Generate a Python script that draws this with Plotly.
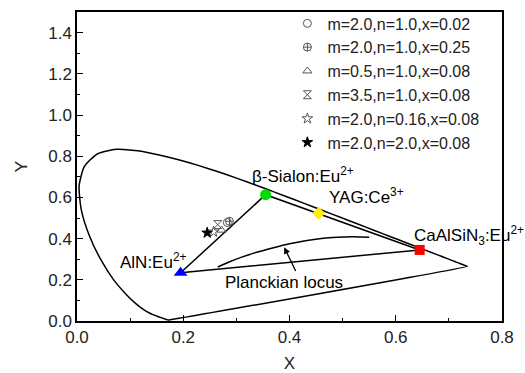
import plotly.graph_objects as go

# CIE 1931 spectral locus (x, y)
locus_x = [0.1741, 0.1740, 0.1738, 0.1736, 0.1733, 0.1730, 0.1726, 0.1721, 0.1714, 0.1703,
           0.1689, 0.1669, 0.1644, 0.1611, 0.1566, 0.1510, 0.1440, 0.1355, 0.1241, 0.1096,
           0.0913, 0.0687, 0.0454, 0.0235, 0.0082, 0.0039, 0.0139, 0.0389, 0.0743, 0.1142,
           0.1547, 0.1929, 0.2296, 0.2658, 0.3016, 0.3373, 0.3731, 0.4087, 0.4441, 0.4788,
           0.5125, 0.5448, 0.5752, 0.6029, 0.6270, 0.6482, 0.6658, 0.6801, 0.6915, 0.7006,
           0.7079, 0.7140, 0.7190, 0.7230, 0.7260, 0.7300, 0.7334, 0.7347, 0.1741]
locus_y = [0.0050, 0.0050, 0.0049, 0.0049, 0.0048, 0.0048, 0.0048, 0.0048, 0.0051, 0.0058,
           0.0069, 0.0086, 0.0109, 0.0138, 0.0177, 0.0227, 0.0297, 0.0399, 0.0578, 0.0868,
           0.1327, 0.2007, 0.2950, 0.4127, 0.5384, 0.6548, 0.7502, 0.8120, 0.8338, 0.8262,
           0.8059, 0.7816, 0.7543, 0.7243, 0.6923, 0.6589, 0.6245, 0.5896, 0.5547, 0.5202,
           0.4866, 0.4544, 0.4242, 0.3965, 0.3725, 0.3514, 0.3340, 0.3197, 0.3083, 0.2993,
           0.2920, 0.2859, 0.2809, 0.2770, 0.2740, 0.2700, 0.2666, 0.2653, 0.0050]

# Planckian locus
planck_x = [0.265, 0.285, 0.31, 0.34, 0.37, 0.40, 0.43, 0.46, 0.49, 0.52, 0.55]
planck_y = [0.262, 0.285, 0.31, 0.335, 0.356, 0.375, 0.39, 0.401, 0.407, 0.409, 0.406]

# Phosphors
phos_names = ["AlN:Eu<sup>2+</sup>", "β-Sialon:Eu<sup>2+</sup>", "YAG:Ce<sup>3+</sup>",
              "CaAlSiN<sub>3</sub>:Eu<sup>2+</sup>"]
phos_x = [0.195, 0.355, 0.455, 0.645]
phos_y = [0.234, 0.613, 0.523, 0.345]
phos_colors = ["#0000ff", "#00dd00", "#ffee00", "#ff0000"]
phos_symbols = ["triangle-up", "circle", "diamond", "square"]
phos_sizes = [12, 11, 10, 10]
label_x = [0.077, 0.325, 0.47, 0.63]
label_y = [0.29, 0.71, 0.605, 0.416]

# Gamut triangle order: AlN -> beta-Sialon -> CaAlSiN3 -> AlN
tri_idx = [0, 1, 3, 0]

# Sample series
series_names = ["m=2.0,n=1.0,x=0.02", "m=2.0,n=1.0,x=0.25", "m=0.5,n=1.0,x=0.08",
                "m=3.5,n=1.0,x=0.08", "m=2.0,n=0.16,x=0.08", "m=2.0,n=2.0,x=0.08"]
series_x = [0.283, 0.287, 0.272, 0.265, 0.257, 0.245]
series_y = [0.478, 0.484, 0.441, 0.468, 0.433, 0.428]
series_symbols = ["circle-open", "circle-cross-open", "triangle-up-open",
                  "hourglass-open", "star-open", "star"]
series_colors = ["#555555", "#555555", "#555555", "#555555", "#555555", "#000000"]

FONT = "Arial, 'Liberation Sans', sans-serif"
FS = 17

fig = go.Figure()

fig.add_trace(go.Scatter(x=locus_x, y=locus_y, mode="lines",
                         line=dict(color="black", width=1.5, shape="spline", smoothing=0.6),
                         showlegend=False, hoverinfo="skip"))
fig.add_trace(go.Scatter(x=planck_x, y=planck_y, mode="lines",
                         line=dict(color="black", width=1.5, shape="spline"),
                         showlegend=False, hoverinfo="skip"))
fig.add_trace(go.Scatter(x=[phos_x[i] for i in tri_idx], y=[phos_y[i] for i in tri_idx],
                         mode="lines", line=dict(color="black", width=1.5),
                         showlegend=False, hoverinfo="skip"))
for i in range(len(phos_x)):
    fig.add_trace(go.Scatter(x=[phos_x[i]], y=[phos_y[i]], mode="markers",
                             marker=dict(symbol=phos_symbols[i], color=phos_colors[i],
                                         size=phos_sizes[i], line=dict(width=0)),
                             showlegend=False))

for i in range(len(series_names)):
    fig.add_trace(go.Scatter(x=[series_x[i]], y=[series_y[i]], mode="markers",
                             name=series_names[i],
                             marker=dict(symbol=series_symbols[i], color=series_colors[i], size=8,
                                         line=dict(width=1, color=series_colors[i]))))

for i in range(len(phos_names)):
    fig.add_annotation(x=label_x[i], y=label_y[i], text=phos_names[i], showarrow=False,
                       xanchor="left", font=dict(size=FS, color="black", family=FONT))

fig.add_annotation(x=0.39, y=0.185, text="Planckian locus", showarrow=False,
                   font=dict(size=FS, color="black", family=FONT))
fig.add_annotation(x=0.39, y=0.358, ax=0.413, ay=0.235, axref="x", ayref="y",
                   xref="x", yref="y", text="", showarrow=True, arrowhead=2,
                   arrowsize=1, arrowwidth=1.3, arrowcolor="black")

axis_common = dict(showline=True, linecolor="black", linewidth=1.5, mirror=True,
                   ticks="inside", ticklen=6, tickwidth=1.2, tickcolor="black",
                   showgrid=False, zeroline=False,
                   tickfont=dict(size=FS, color="#222222", family=FONT))

fig.update_xaxes(range=[0, 0.8], dtick=0.2, tickformat=".1f",
                 minor=dict(ticks="inside", ticklen=3, dtick=0.1, tickcolor="black"),
                 title=dict(text="X", font=dict(size=FS, family=FONT, color="#222222"), standoff=18),
                 **axis_common)
fig.update_yaxes(range=[0, 1.5], dtick=0.2, tickformat=".1f",
                 minor=dict(ticks="inside", ticklen=3, dtick=0.1, tickcolor="black"),
                 title=dict(text="Y", font=dict(size=FS, family=FONT, color="#222222"), standoff=16),
                 **axis_common)

fig.update_layout(width=525, height=373,
                  margin=dict(l=77, r=23, t=12, b=52, autoexpand=False),
                  paper_bgcolor="white", plot_bgcolor="white",
                  font=dict(family=FONT, color="black"),
                  legend=dict(x=0.495, y=1.018, xanchor="left", yanchor="top",
                              bgcolor="rgba(0,0,0,0)", borderwidth=0,
                              font=dict(size=16, family=FONT, color="#222222"),
                              tracegroupgap=0, itemwidth=30))

fig.write_html("out.html")
